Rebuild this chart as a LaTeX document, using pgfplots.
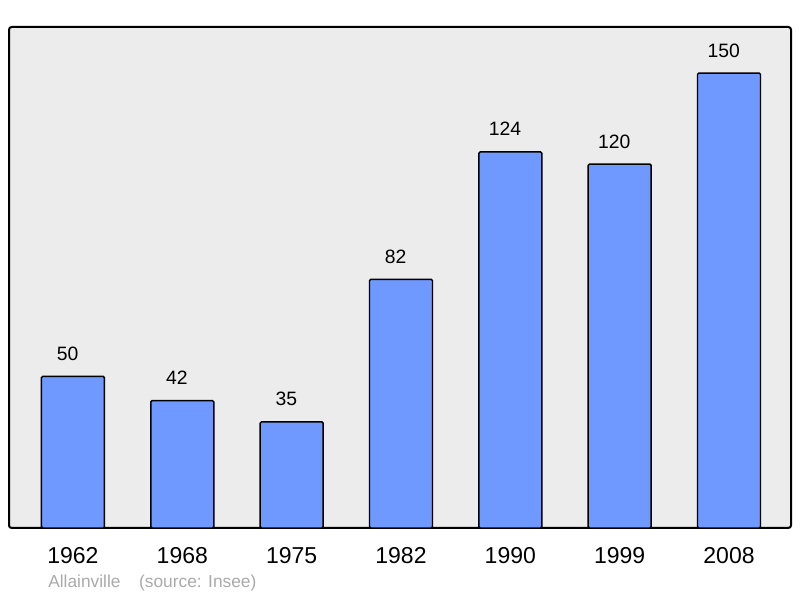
\documentclass[border=0pt]{standalone}
\usepackage{fontspec}
\setmainfont{Liberation Sans}
\usepackage{pgfplots}
\pgfplotsset{compat=1.18}
\definecolor{barblue}{RGB}{112,153,255}
\definecolor{panel}{RGB}{236,236,236}
\definecolor{footgray}{RGB}{170,170,170}

\begin{document}
\begin{tikzpicture}
\path[use as bounding box] (0,0) rectangle (600pt,448.5pt);
\begin{axis}[
  at={(6.75pt,52.5pt)}, anchor=south west,
  scale only axis,
  width=586.5pt, height=375.75pt,
  xmin=-0.585, xmax=6.567,
  ymin=0, ymax=165.2,
  /pgf/number format/assume math mode=true,
  axis background/.style={fill=panel, rounded corners=2pt},
  axis line style={line width=1.5pt, rounded corners=2pt},
  ytick=\empty,
  xtick={0,...,6},
  xticklabels={1962,1968,1975,1982,1990,1999,2008},
  major tick length=0pt,
  xticklabel style={anchor=base, yshift=-27pt, font=\fontsize{17.25}{20}\selectfont},
  ybar, bar width=47.25pt,
  nodes near coords,
  every node near coord/.style={anchor=base, yshift=12pt, xshift=-4pt, inner sep=0pt,
    font=\fontsize{14.5}{17}\selectfont, text=black},
  clip=false,
]
\addplot[fill=barblue, draw=black, line width=1.1pt, rounded corners=1pt] coordinates {
(0,50) (1,42) (2,35) (3,82) (4,124) (5,120) (6,150)
};
\end{axis}
\node[anchor=base west, inner sep=0pt, text=footgray, font=\fontsize{13}{15}\selectfont]
  at (36pt,7.5pt) {Allainville\hspace{14pt}(source: Insee)};
\end{tikzpicture}
\end{document}
